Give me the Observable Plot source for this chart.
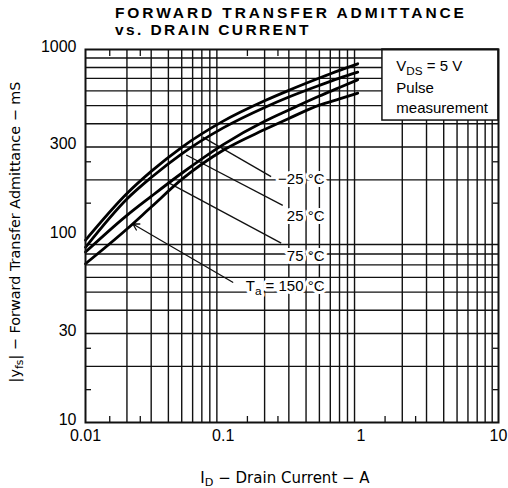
<!DOCTYPE html>
<html><head><meta charset="utf-8">
<script src="https://cdn.jsdelivr.net/npm/d3@7"></script>
<script src="https://cdn.jsdelivr.net/npm/@observablehq/plot@0.6"></script>
<style>
html,body{margin:0;padding:0;background:#fff;}
#wrap{position:relative;width:508px;height:488px;overflow:hidden;background:#fff;}
#wrap svg{position:absolute;left:0;top:0;}
.t{position:absolute;white-space:nowrap;color:#000;}
.sb{font-size:0.75em;position:relative;top:0.3em;}
</style></head><body><div id="wrap"></div>
<script>
// ---- data ----
const current = [0.01, 0.02, 0.03, 0.05, 0.1, 0.2, 0.3, 0.5, 0.7, 0.95]; // ID (A)
const yfsMinus25 = [95, 169, 222, 299, 413, 531, 604, 703, 773, 838];   // mS, Ta = -25 °C
const yfs25      = [87, 158, 206, 276, 380, 489, 556, 642, 702, 756];   // mS, Ta = 25 °C
const yfs75      = [82, 129, 163, 217, 309, 412, 474, 563, 625, 688];   // mS, Ta = 75 °C
const yfs150     = [71, 109, 143, 201, 288, 372, 427, 503, 543, 583];   // mS, Ta = 150 °C
const seriesNames = ["-25", "25", "75", "150"];

const xTicks = [0.01, 0.1, 1, 10];
const xTickLabels = ["0.01", "0.1", "1", "10"];
const yTicks = [10, 30, 100, 300, 1000];
const yTickLabels = ["10", "30", "100", "300", "1000"];
const xMinor = [0.015, 0.025, 0.15, 0.25, 1.5, 2.5];
const yMinor = [15, 25, 150, 250];

// annotations (data coordinates)
const labelText = ["−25 °C", "25 °C", "75 °C", "Ta = 150 °C"];
const labelX = [0.545, 0.545, 0.545, 0.545];
const labelY = [201, 127, 77.6, 53.6];
const leaderX1 = [0.0711, 0.0539, 0.0396];
const leaderY1 = [339, 272, 194];
const leaderX2 = [0.223, 0.271, 0.264];
const leaderY2 = [208, 146, 91.5];
const arrowFrom = [0.1174, 56.5];
const arrowTo = [0.0221, 116];
const legendBox = [1.435, 10, 416, 1000];
const legendText = ["VDS = 5 V", "Pulse", "measurement"];
const legendX = 1.81;
const legendY = [811, 618, 483];

// ---- build tables ----
const allSeries = [yfsMinus25, yfs25, yfs75, yfs150];
const curves = allSeries.flatMap((s, k) => current.map((x, i) => ({x, y: s[i], t: seriesNames[k]})));
const xGrid = [];
for (const d of [0.01, 0.1, 1]) for (let m = 2; m <= 9; m++) xGrid.push(+(m * d).toPrecision(3));
const yGrid = [];
for (const d of [10, 100]) for (let m = 2; m <= 9; m++) yGrid.push(m * d);
const labels = labelText.map((t, i) => ({t, x: labelX[i], y: labelY[i]}));
const leaders = leaderX1.map((x1, i) => ({x1, y1: leaderY1[i], x2: leaderX2[i], y2: leaderY2[i]}));
const legendRows = legendText.map((t, i) => ({t, x: legendX, y: legendY[i]}));

const F = "'Liberation Sans', Arial, Helvetica, sans-serif";
const ink = "#111";

const svg = Plot.plot({
  width: 508, height: 488,
  marginLeft: 85, marginRight: 10, marginTop: 49, marginBottom: 66,
  x: {type: "log", domain: [0.01, 10]},
  y: {type: "log", domain: [10, 1000]},
  style: {fontFamily: F, fontSize: "16px", background: "white", color: "black", overflow: "visible"},
  marks: [
    Plot.ruleX(xGrid, {stroke: ink, strokeWidth: 1.4}),
    Plot.ruleY(yGrid, {stroke: ink, strokeWidth: 1.4}),
    Plot.axisX(xMinor, {anchor: "bottom", tickSize: -6, tickFormat: () => "", label: null, stroke: ink, strokeWidth: 1.3}),
    Plot.axisX(xMinor, {anchor: "top", tickSize: -6, tickFormat: () => "", label: null, stroke: ink, strokeWidth: 1.3}),
    Plot.axisY(yMinor, {anchor: "left", tickSize: -6, tickFormat: () => "", label: null, stroke: ink, strokeWidth: 1.3}),
    Plot.axisY(yMinor, {anchor: "right", tickSize: -6, tickFormat: () => "", label: null, stroke: ink, strokeWidth: 1.3}),
    Plot.rect([legendBox], {x1: d => d[0], x2: d => d[1], y1: d => d[2], y2: d => d[3], fill: "white", stroke: ink, strokeWidth: 1.5}),
    Plot.link(leaders, {x1: "x1", y1: "y1", x2: "x2", y2: "y2", stroke: ink, strokeWidth: 1.3}),
    Plot.arrow([0], {x1: () => arrowFrom[0], y1: () => arrowFrom[1], x2: () => arrowTo[0], y2: () => arrowTo[1], stroke: ink, strokeWidth: 1.3, headLength: 8}),
    Plot.line(curves, {x: "x", y: "y", z: "t", stroke: "black", strokeWidth: 2.8, curve: "monotone-x"}),
    Plot.text(labels, {x: "x", y: "y", text: "t", textAnchor: "end", fontSize: 15, fill: "black", stroke: "white", strokeWidth: 6, paintOrder: "stroke"}),
    Plot.text(legendRows, {x: "x", y: "y", text: "t", textAnchor: "start", fontSize: 15, fill: "black"}),
    Plot.frame({stroke: ink, strokeWidth: 2}),
    Plot.axisX(xTicks, {anchor: "bottom", tickSize: 0, tickPadding: 7, tickFormat: (d) => xTickLabels[xTicks.indexOf(d)], label: null, fill: "black"}),
    Plot.axisY(yTicks, {anchor: "left", tickSize: 0, tickPadding: 9, dy: -3, tickFormat: (d) => yTickLabels[yTicks.indexOf(d)], label: null, fill: "black"})
  ]
});

function subscript(root, full, parts) {
  root.querySelectorAll("text").forEach(t => {
    if (t.textContent !== full) return;
    while (t.firstChild) t.removeChild(t.firstChild);
    parts.forEach(([s, sub], i) => {
      const ts = document.createElementNS("http://www.w3.org/2000/svg", "tspan");
      ts.textContent = s;
      if (sub) { ts.setAttribute("dy", "4"); ts.setAttribute("font-size", "0.78em"); }
      else if (i > 0 && parts[i - 1][1]) ts.setAttribute("dy", "-4");
      t.appendChild(ts);
    });
  });
}
subscript(svg, "VDS = 5 V", [["V", false], ["DS", true], [" = 5 V", false]]);
subscript(svg, "Ta = 150 °C", [["T", false], ["a", true], [" = 150 °C", false]]);

const wrap = document.getElementById("wrap");
wrap.appendChild(svg);

function addText(html, style) {
  const d = document.createElement("div");
  d.className = "t";
  d.innerHTML = html;
  Object.assign(d.style, style);
  wrap.appendChild(d);
}
addText("FORWARD TRANSFER ADMITTANCE", {left: "115px", top: "5px", font: "bold 15.5px " + F, letterSpacing: "2.9px", lineHeight: "16px"});
addText("vs. DRAIN CURRENT", {left: "115px", top: "21.5px", font: "bold 15.5px " + F, letterSpacing: "2.4px", lineHeight: "16px"});
addText("I<span class='sb'>D</span> − Drain Current − A", {left: "285px", top: "470.5px", transform: "translateX(-50%)", font: "15px 'DejaVu Sans', sans-serif", lineHeight: "15px"});
addText("|y<span class='sb'>fs</span>| − Forward Transfer Admittance − mS", {left: "16px", top: "232px", transform: "translate(-50%,-50%) rotate(-90deg)", font: "14.4px 'DejaVu Sans', sans-serif", lineHeight: "15px"});
</script></body></html>
